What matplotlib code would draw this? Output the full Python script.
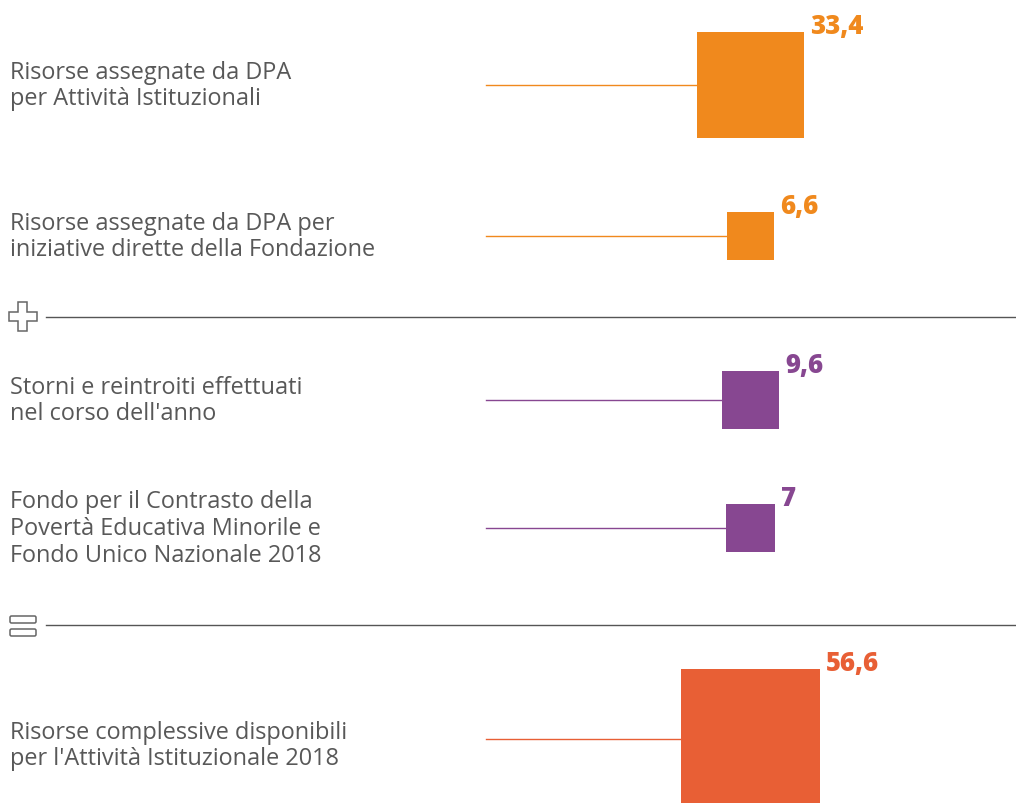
import numpy as np
import matplotlib.pyplot as plt
from matplotlib.patches import Rectangle, Polygon, FancyBboxPatch

labels = [
    "Risorse assegnate da DPA\nper Attività Istituzionali",
    "Risorse assegnate da DPA per\niniziative dirette della Fondazione",
    "Storni e reintroiti effettuati\nnel corso dell'anno",
    "Fondo per il Contrasto della\nPovertà Educativa Minorile e\nFondo Unico Nazionale 2018",
    "Risorse complessive disponibili\nper l'Attività Istituzionale 2018",
]
values = [33.4, 6.6, 9.6, 7, 56.6]
value_text = ["33,4", "6,6", "9,6", "7", "56,6"]
colors = ["#F0891D", "#F0891D", "#874791", "#874791", "#E85F35"]

# layout (pixels)
row_y = [86, 237, 401, 529, 740]
cx = 750.5
scale = 18.5  # side = scale * sqrt(value)
sep_y = [318, 626]

fig = plt.figure(figsize=(10.16, 8.04), dpi=100)
ax = fig.add_axes([0, 0, 1, 1])
ax.set_xlim(0, 1016)
ax.set_ylim(804, 0)
ax.axis("off")

for lab, v, vt, c, y in zip(labels, values, value_text, colors, row_y):
    side = scale * np.sqrt(v)
    left = cx - side / 2
    top = y - side / 2
    ax.plot([486, left], [y, y], color=c, lw=1)
    ax.add_patch(Rectangle((left, top), side, side, color=c, lw=0))
    ax.text(left + side + 6, top + 1, vt, color=c, fontsize=18.5,
            fontweight=800, family="Open Sans", va="baseline", ha="left")
    ty = y + 6 if y > 700 else y
    ax.text(10, ty, lab, color="#585858", fontsize=16.9, family="Open Sans",
            va="center", ha="left", linespacing=1.15)

for sy in sep_y:
    ax.plot([46, 1016], [sy, sy], color="#555555", lw=1)

# plus icon
cross = [(18, 303), (27, 303), (27, 313), (37, 313), (37, 322), (27, 322),
         (27, 332), (18, 332), (18, 322), (9, 322), (9, 313), (18, 313)]
ax.add_patch(Polygon(cross, closed=True, fill=False, edgecolor="#666666", lw=1.1))

# equals icon
for ey in [617, 630]:
    ax.add_patch(FancyBboxPatch((10, ey), 26, 7, boxstyle="round,pad=0,rounding_size=1.5",
                                fill=False, edgecolor="#666666", lw=1.1))

fig.savefig("out.png", dpi=100)
